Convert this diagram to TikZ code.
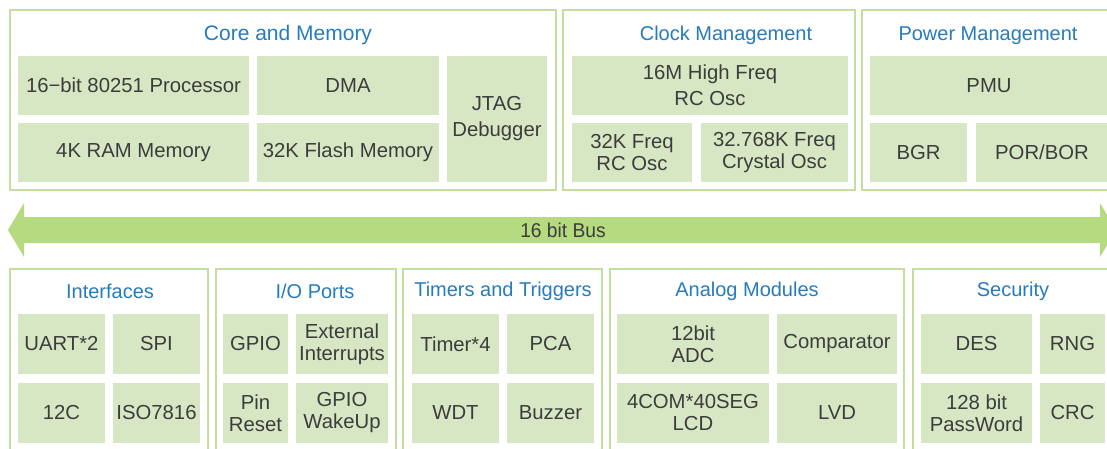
\documentclass[tikz,border=0pt]{standalone}
\usepackage{fontspec}
\setmainfont{Liberation Sans}
\definecolor{bordercol}{RGB}{196,222,160}
\definecolor{innerfill}{RGB}{216,231,195}
\definecolor{busfill}{RGB}{182,218,127}
\definecolor{titleblue}{RGB}{38,124,188}
\definecolor{textgray}{RGB}{60,60,60}
\newcommand{\bx}[7][]{%
  \node[#1, minimum width={(#5-#3)*1pt}, minimum height={(#6-#4)*1pt}]
    (#2) at ({(#3+#5)/2},{(#4+#6)/2}) {#7};}
\tikzset{
  outerbox/.style={draw=bordercol, line width=1.8pt, fill=white, inner sep=0pt},
  inbox/.style={fill=innerfill, inner sep=0pt, align=center, text=textgray,
    font=\fontsize{20.3}{22}\selectfont},
  inboxtall/.style={inbox, font=\fontsize{20.3}{26}\selectfont},
  title/.style={text=titleblue, font=\fontsize{20}{24}\selectfont, inner sep=0pt, anchor=base},
  buslabel/.style={text=textgray, font=\fontsize{20}{24}\selectfont, xscale=0.96, transform shape, inner sep=0pt, anchor=base}
}
\begin{document}
\begin{tikzpicture}[x=1pt,y=-1pt]
\clip (0,0) rectangle (1107,448);
\fill[white] (0,0) rectangle (1107,448);
% ---- Core and Memory
\bx[outerbox]{core}{10}{10}{556}{190}{}
\node[title, font=\fontsize{21}{24}\selectfont] (coreT) at (288,40) {Core and Memory};
\bx[inbox]{proc}{18}{56}{249}{115}{16−bit 80251 Processor}
\bx[inbox]{dma}{257}{56}{439}{115}{DMA}
\bx[inbox]{ram}{18}{123}{249}{182}{4K RAM Memory}
\bx[inbox]{flash}{257}{123}{439}{182}{32K Flash Memory}
\bx[inboxtall]{jtag}{447}{56}{547}{182}{JTAG\\Debugger}
% ---- Clock Management
\bx[outerbox]{clock}{563}{10}{855}{190}{}
\node[title] (clockT) at (726,40) {Clock Management};
\bx[inboxtall]{hf}{572}{56}{848}{115}{16M High Freq\\RC Osc}
\bx[inbox]{lf}{572}{123}{692}{182}{32K Freq\\RC Osc}
\bx[inbox]{xtal}{701}{123}{848}{182}{32.768K Freq\\Crystal Osc}
% ---- Power Management
\bx[outerbox]{power}{862}{10}{1116}{190}{}
\node[title] (powerT) at (988,40) {Power Management};
\bx[inbox]{pmu}{870}{56}{1108}{115}{PMU}
\bx[inbox]{bgr}{870}{123}{967}{182}{BGR}
\bx[inbox]{por}{976}{123}{1108}{182}{POR/BOR}
% ---- Bus
\fill[busfill] (8,230) -- (24,203) -- (24,217) -- (1100,217) -- (1100,203)
  -- (1116,230) -- (1100,257) -- (1100,243) -- (24,243) -- (24,257) -- cycle;
\node[buslabel] (bus) at (563,237) {16 bit Bus};
% ---- Interfaces
\bx[outerbox]{intf}{10}{269}{208}{460}{}
\node[title] (intfT) at (110,298) {Interfaces};
\bx[inbox]{uart}{18}{314}{105}{374}{UART*2}
\bx[inbox]{spi}{113}{314}{200}{374}{SPI}
\bx[inbox]{iic}{18}{383}{105}{443}{12C}
\bx[inbox]{iso}{113}{383}{200}{443}{ISO7816}
% ---- I/O Ports
\bx[outerbox]{io}{216}{269}{396}{460}{}
\node[title] (ioT) at (315,298) {I/O Ports};
\bx[inbox]{gpio}{223}{314}{288}{374}{GPIO}
\bx[inbox]{ext}{296}{314}{388}{374}{External\\Interrupts}
\bx[inbox]{pin}{223}{383}{288}{443}{Pin\\Reset}
\bx[inbox]{wake}{296}{383}{388}{443}{GPIO\\WakeUp}
% ---- Timers and Triggers
\bx[outerbox]{tim}{403}{269}{602}{460}{}
\node[title] (timT) at (503,296) {Timers and Triggers};
\bx[inbox]{timer}{412}{314}{499}{374}{Timer*4}
\bx[inbox]{pca}{507}{314}{594}{374}{PCA}
\bx[inbox]{wdt}{412}{383}{499}{443}{WDT}
\bx[inbox]{buzz}{507}{383}{594}{443}{Buzzer}
% ---- Analog Modules
\bx[outerbox]{ana}{610}{269}{904}{460}{}
\node[title] (anaT) at (747,296) {Analog Modules};
\bx[inbox]{adc}{617}{314}{769}{374}{12bit\\ADC}
\bx[inbox]{comp}{777}{314}{897}{374}{Comparator}
\bx[inbox]{lcd}{617}{383}{769}{443}{4COM*40SEG\\LCD}
\bx[inbox]{lvd}{777}{383}{897}{443}{LVD}
% ---- Security
\bx[outerbox]{sec}{913}{269}{1113}{460}{}
\node[title] (secT) at (1013,296) {Security};
\bx[inbox]{des}{921}{314}{1032}{374}{DES}
\bx[inbox]{rng}{1040}{314}{1105}{374}{RNG}
\bx[inbox]{pwd}{921}{383}{1032}{443}{128 bit\\PassWord}
\bx[inbox]{crc}{1040}{383}{1105}{443}{CRC}
\end{tikzpicture}
\end{document}
